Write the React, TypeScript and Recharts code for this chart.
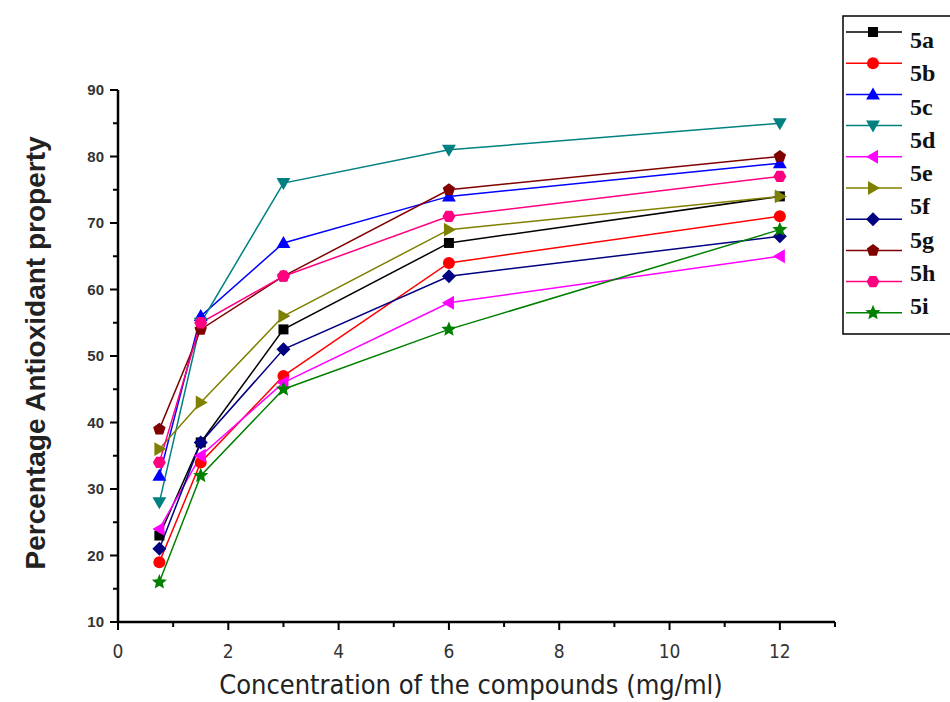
import React from 'react';
import { LineChart, Line, XAxis, YAxis, Legend } from 'recharts';

// Concentration (mg/ml) at which each compound was measured
const CONCENTRATIONS = [0.75, 1.5, 3, 6, 12];

// Percentage antioxidant property per compound
const S5A = [23, 37, 54, 67, 74];
const S5B = [19, 34, 47, 64, 71];
const S5C = [32, 56, 67, 74, 79];
const S5D = [28, 55, 76, 81, 85];
const S5E = [24, 35, 46, 58, 65];
const S5F = [36, 43, 56, 69, 74];
const S5G = [21, 37, 51, 62, 68];
const S5H = [39, 54, 62, 75, 80];
const S5I = [34, 55, 62, 71, 77];
const S5J = [16, 32, 45, 54, 69];

const LEGEND_LABELS = ['5a', '5b', '5c', '5d', '5e', '5f', '5g', '5h', '5i'];

const X_TICKS = [0, 1, 2, 3, 4, 5, 6, 7, 8, 9, 10, 11, 12, 13];
const Y_TICKS = [10, 15, 20, 25, 30, 35, 40, 45, 50, 55, 60, 65, 70, 75, 80, 85, 90];

type Shape = 'square' | 'circle' | 'up' | 'down' | 'left' | 'right' | 'diamond' | 'pentagon' | 'hexagon' | 'star';

const SERIES: { key: string; values: number[]; color: string; shape: Shape }[] = [
  { key: 's5a', values: S5A, color: '#000000', shape: 'square' },
  { key: 's5b', values: S5B, color: '#ff0000', shape: 'circle' },
  { key: 's5c', values: S5C, color: '#0000ff', shape: 'up' },
  { key: 's5d', values: S5D, color: '#008080', shape: 'down' },
  { key: 's5e', values: S5E, color: '#ff00ff', shape: 'left' },
  { key: 's5f', values: S5F, color: '#808000', shape: 'right' },
  { key: 's5g', values: S5G, color: '#000080', shape: 'diamond' },
  { key: 's5h', values: S5H, color: '#800000', shape: 'pentagon' },
  { key: 's5i', values: S5I, color: '#ff0080', shape: 'hexagon' },
  { key: 's5j', values: S5J, color: '#008000', shape: 'star' },
];

const chartData = CONCENTRATIONS.map((x, i) => {
  const row: Record<string, number> = { x };
  SERIES.forEach((s) => {
    row[s.key] = s.values[i];
  });
  return row;
});

const NARROW = "'Liberation Sans Narrow', 'DejaVu Sans Condensed', sans-serif";
const SANS = "'Liberation Sans', Arial, sans-serif";

function polygon(cx: number, cy: number, r: number, n: number, rot: number) {
  const pts: string[] = [];
  for (let i = 0; i < n; i++) {
    const a = rot + (i * 2 * Math.PI) / n;
    pts.push(`${cx + r * Math.cos(a)},${cy + r * Math.sin(a)}`);
  }
  return pts.join(' ');
}

function starPoints(cx: number, cy: number, r: number) {
  const pts: string[] = [];
  for (let i = 0; i < 10; i++) {
    const a = -Math.PI / 2 + (i * Math.PI) / 5;
    const rr = i % 2 === 0 ? r : r * 0.45;
    pts.push(`${cx + rr * Math.cos(a)},${cy + rr * Math.sin(a)}`);
  }
  return pts.join(' ');
}

function Marker({ shape, cx, cy, color }: { shape: Shape; cx: number; cy: number; color: string }) {
  const r = 7;
  switch (shape) {
    case 'square':
      return <rect x={cx - 5} y={cy - 5} width={10} height={10} fill={color} />;
    case 'circle':
      return <circle cx={cx} cy={cy} r={6} fill={color} />;
    case 'up':
      return <polygon points={polygon(cx, cy + 1, r + 1, 3, -Math.PI / 2)} fill={color} />;
    case 'down':
      return <polygon points={polygon(cx, cy - 1, r + 1, 3, Math.PI / 2)} fill={color} />;
    case 'left':
      return <polygon points={polygon(cx + 1, cy, r + 1, 3, Math.PI)} fill={color} />;
    case 'right':
      return <polygon points={polygon(cx - 1, cy, r + 1, 3, 0)} fill={color} />;
    case 'diamond':
      return <polygon points={polygon(cx, cy, r, 4, 0)} fill={color} />;
    case 'pentagon':
      return <polygon points={polygon(cx, cy, 6.5, 5, -Math.PI / 2)} fill={color} />;
    case 'hexagon':
      return <polygon points={polygon(cx, cy, 6.5, 6, 0)} fill={color} />;
    case 'star':
      return <polygon points={starPoints(cx, cy, 8)} fill={color} />;
    default:
      return null;
  }
}

function XTick(props: any) {
  const { x, y, payload } = props;
  const v = payload.value as number;
  const major = v % 2 === 0;
  return (
    <g>
      <line x1={x} x2={x} y1={y} y2={y + (major ? 8 : 5)} stroke="#000" strokeWidth={2} />
      {major && v <= 12 && (
        <text
          x={x}
          y={y + 36}
          textAnchor="middle"
          fontFamily={NARROW}
          fontSize={19}
          fill="#333"
        >
          {v}
        </text>
      )}
    </g>
  );
}

function YTick(props: any) {
  const { x, y, payload } = props;
  const v = payload.value as number;
  const major = v % 10 === 0;
  return (
    <g>
      <line x1={x} x2={x - (major ? 8 : 5)} y1={y} y2={y} stroke="#000" strokeWidth={2} />
      {major && (
        <text
          x={x - 14}
          y={y + 5}
          textAnchor="end"
          fontFamily={SANS}
          fontWeight="bold"
          fontSize={15}
          fill="#333"
        >
          {v}
        </text>
      )}
    </g>
  );
}

function LegendBox() {
  return (
    <svg width={108} height={320} style={{ display: 'block' }}>
      <path d="M108,1 L1,1 L1,319 L108,319" fill="none" stroke="#000" strokeWidth={1.5} />
      {SERIES.map((s, i) => {
        const cy = 17 + i * 31.2;
        return (
          <g key={s.key}>
            <line x1={4} x2={60} y1={cy} y2={cy} stroke={s.color} strokeWidth={1.5} />
            <Marker shape={s.shape} cx={31} cy={cy} color={s.color} />
          </g>
        );
      })}
      {LEGEND_LABELS.map((label, i) => (
        <text
          key={label}
          x={68}
          y={33 + i * 33.25}
          fontFamily="'Liberation Serif', 'Times New Roman', serif"
          fontWeight="bold"
          fontSize={24}
          fill="#111"
        >
          {label}
        </text>
      ))}
    </svg>
  );
}

export default function App() {
  return (
    <div style={{ position: 'absolute', left: 0, top: 0, width: 950, height: 702, background: '#fff' }}>
      <LineChart
        width={950}
        height={702}
        data={chartData}
        margin={{ top: 90, right: 115, bottom: 0, left: 0 }}
      >
        <XAxis
          type="number"
          dataKey="x"
          domain={[0, 13]}
          ticks={X_TICKS}
          interval={0}
          tickSize={0}
          tickMargin={0}
          tickLine={false}
          tick={<XTick />}
          height={80}
          axisLine={{ stroke: '#000', strokeWidth: 2.5 }}
        />
        <YAxis
          type="number"
          domain={[10, 90]}
          ticks={Y_TICKS}
          interval={0}
          tickSize={0}
          tickMargin={0}
          tickLine={false}
          tick={<YTick />}
          width={118}
          axisLine={{ stroke: '#000', strokeWidth: 2.5 }}
        />
        <Legend
          layout="vertical"
          align="center"
          verticalAlign="middle"
          wrapperStyle={{ left: 842, top: 15, width: 108, height: 320 }}
          content={() => <LegendBox />}
        />
        {SERIES.map((s) => (
          <Line
            key={s.key}
            type="linear"
            dataKey={s.key}
            stroke={s.color}
            strokeWidth={1.5}
            isAnimationActive={false}
            dot={(p: any) => (
              <Marker key={`${s.key}-${p.index}`} shape={s.shape} cx={p.cx} cy={p.cy} color={s.color} />
            )}
            activeDot={false}
          />
        ))}
        <text
          x={38}
          y={353}
          transform="rotate(-90 38 353)"
          textAnchor="middle"
          dominantBaseline="middle"
          fontFamily={SANS}
          fontWeight="bold"
          fontSize={28}
          fill="#222"
        >
          Percentage Antioxidant property
        </text>
        <text
          x={471}
          y={694}
          textAnchor="middle"
          fontFamily={NARROW}
          fontSize={27}
          fill="#222"
        >
          Concentration of the compounds (mg/ml)
        </text>
      </LineChart>
    </div>
  );
}
